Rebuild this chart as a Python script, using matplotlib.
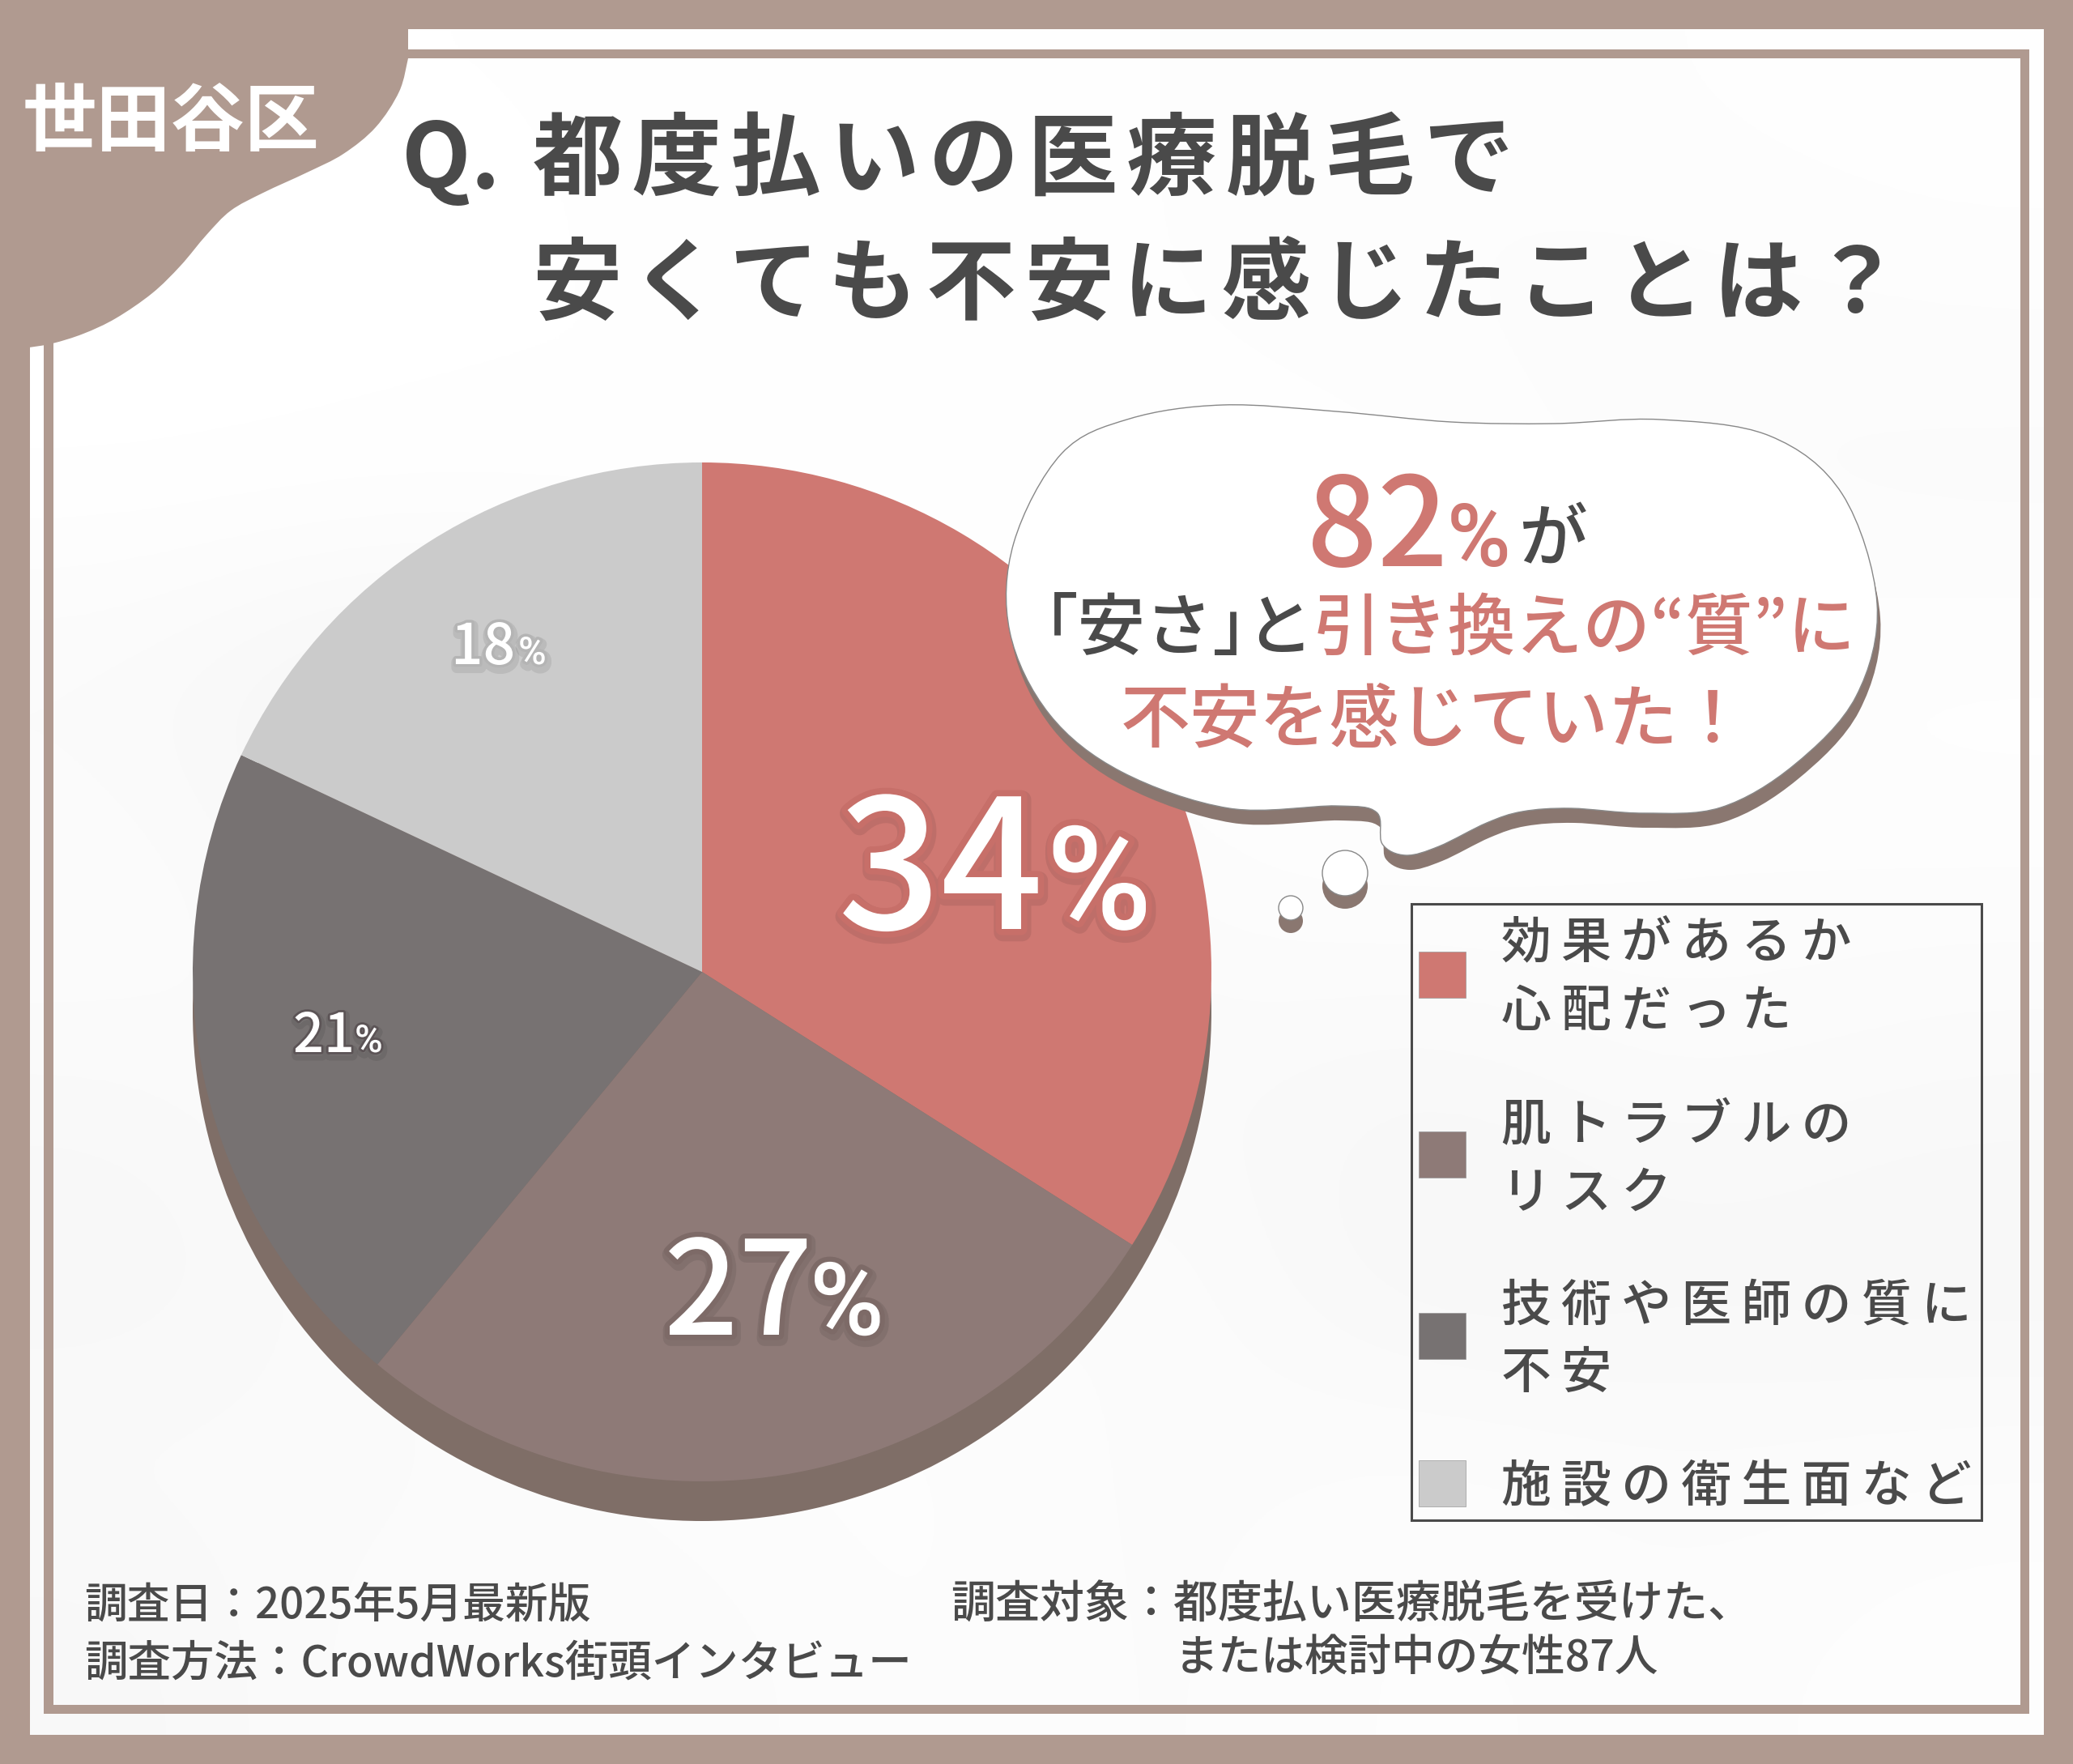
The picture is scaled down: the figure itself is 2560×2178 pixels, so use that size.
# -*- coding: utf-8 -*-
import numpy as np
import matplotlib
matplotlib.use("Agg")
import matplotlib.pyplot as plt
import matplotlib.patheffects as pe
from matplotlib.path import Path
from matplotlib.patches import PathPatch, Rectangle, Circle

plt.rcParams['font.family'] = ['Noto Sans CJK JP', 'DejaVu Sans']

# data
categories = ["効果があるか\n心配だった", "肌トラブルの\nリスク", "技術や医師の質に\n不安", "施設の衛生面など"]
values = [34, 27, 21, 18]
colors = ['#cf7872', '#8e7a77', '#777272', '#cbcbcb']

BROWN = '#b09a90'
DARK = '#4a4a4a'
PINK = '#cf7872'
THIN = '\u2009'
HAIR = '\u200a'

# faint paper texture behind everything
texture = [
    [254, 254, 254, 254, 253, 252, 253, 254],
    [255, 254, 254, 254, 253, 252, 251, 252],
    [254, 254, 254, 254, 254, 254, 251, 250],
    [249, 242, 246, 252, 253, 254, 253, 254],
    [252, 246, 240, 246, 252, 253, 252, 252],
    [249, 252, 246, 243, 250, 247, 251, 249],
    [246, 251, 253, 250, 252, 245, 247, 246],
    [250, 249, 252, 253, 250, 252, 250, 251],
    [247, 252, 249, 253, 250, 253, 251, 253],
]


def track(s, sep):
    # letter spacing, keeps it one string
    return "\n".join(sep.join(line) for line in s.split("\n"))


def smooth(pts, closed=True):
    pts = [np.array(p, dtype=float) for p in pts]
    n = len(pts)
    verts = [pts[0]]
    codes = [Path.MOVETO]
    for i in range(n if closed else n - 1):
        if closed:
            p0, p1, p2, p3 = pts[i - 1], pts[i], pts[(i + 1) % n], pts[(i + 2) % n]
        else:
            p0, p1, p2, p3 = pts[max(i - 1, 0)], pts[i], pts[i + 1], pts[min(i + 2, n - 1)]
        verts += [p1 + (p2 - p0) / 6, p2 - (p3 - p1) / 6, p2]
        codes += [Path.CURVE4] * 3
    return verts, codes


fig = plt.figure(figsize=(25.6, 21.78), dpi=100, facecolor=BROWN)
ax = fig.add_axes([0, 0, 1, 1])

# ========== frame ==========
ax.imshow(np.array(texture) / 255, cmap='gray', vmin=0, vmax=1, interpolation='bicubic',
          extent=(37, 2524, 2142, 36), aspect='auto', zorder=1)
for x, y, w, h in [(54, 61, 2452, 11), (54, 2105, 2452, 11), (54, 61, 12, 2055), (2495, 61, 11, 2055)]:
    ax.add_patch(Rectangle((x, y), w, h, fc=BROWN, ec='none', zorder=2))

# corner blob
edge = [(504, 72), (493, 113), (464, 157), (424, 190), (379, 213), (325, 238), (285, 260),
        (255, 290), (223, 328), (188, 362), (143, 393), (103, 412), (65, 424), (36, 429)]
v, c = smooth(edge, closed=False)
v += [(0, 432), (0, 0), (504, 0), (504, 72), (504, 72)]
c += [Path.LINETO] * 4 + [Path.CLOSEPOLY]
ax.add_patch(PathPatch(Path(v, c), fc=BROWN, ec='none', zorder=3))
ax.text(28, 179, "世田谷区", color='white', fontsize=66, fontweight='bold', zorder=4)

# ========== title ==========
ax.text(496, 232, "Q.", color=DARK, fontsize=80, fontweight='bold', zorder=4)
ax.text(658, 232, track("都度払いの医療脱毛で", HAIR), color=DARK, fontsize=80, fontweight='bold', zorder=4)
ax.text(658, 387, track("安くても不安に感じたことは？", HAIR), color=DARK, fontsize=79.6, fontweight='bold', zorder=4)

# ========== pie ==========
ax.add_patch(Circle((867, 1249), 629, fc='#7f6e67', ec='none', zorder=4))
wedges, _ = ax.pie(values, colors=colors, center=(867, 1200), radius=629,
                   startangle=-90, counterclock=True, frame=True)
for w in wedges:
    w.set_zorder(5)

# big labels get a heavier outline
label_style = [
    (1035, 1147, 160, 1292, 128, '#c76f69', 11),
    (820, 1648, 116, 1000, 90, '#7d6a67', 9),
    (362, 1299, 48, 438, 34, '#5c5456', 4),
    (557, 820, 50, 640, 34, '#b4b4b4', 5),
]
for value, (x, y, size, px, psize, stroke, lw) in zip(values, label_style):
    fx = [pe.Stroke(linewidth=lw + 5, foreground='#000000', alpha=0.08, offset=(1, -3)),
          pe.Stroke(linewidth=lw, foreground=stroke), pe.Normal()]
    ax.text(x, y, str(value), color='white', fontsize=size, fontweight='medium', zorder=6, path_effects=fx)
    ax.text(px, y, "%", color='white', fontsize=psize, fontweight='medium', family=['Roboto'],
            zorder=6, path_effects=fx)

# ========== bubble ==========
outline = [(1510, 500), (1650, 508), (1792, 521), (1920, 523), (2050, 518), (2185, 538), (2275, 610),
           (2318, 745), (2292, 860), (2215, 945), (2125, 997),
           (2030, 1004), (1940, 998), (1880, 1002), (1836, 1016), (1777, 1045), (1736, 1056),
           (1707, 1042), (1700, 1003), (1650, 995), (1518, 998), (1385, 953), (1296, 882),
           (1247, 780), (1252, 670), (1311, 560), (1395, 517)]
v, c = smooth(outline)
shadow = [np.array(p) + (4, 18) for p in v]
ax.add_patch(PathPatch(Path(shadow, c), fc='#8a7770', ec='none', zorder=7))
ax.add_patch(PathPatch(Path(v, c), fc='white', ec='#888888', lw=1.0, zorder=8))
for cx, cy, r in [(1661, 1078, 28), (1594, 1121, 15)]:
    ax.add_patch(Circle((cx, cy + 16), r, fc='#8a7770', ec='none', zorder=7))
    ax.add_patch(Circle((cx, cy), r, fc='white', ec='#888888', lw=1.0, zorder=8))

ax.text(1614, 699, "82", color=PINK, fontsize=110, fontweight='medium', zorder=9)
ax.text(1787, 699, "%", color=PINK, fontsize=77, fontweight='medium', family=['Roboto'], zorder=9)
ax.text(1875, 692, "が", color=DARK, fontsize=61, fontweight='medium', zorder=9)
ax.text(1290, 802, "｢安さ｣と", color=DARK, fontsize=60, fontweight='medium', zorder=9)
ax.text(1622, 802, "引き換えの“質”に", color=PINK, fontsize=60, fontweight='medium', zorder=9)
ax.text(1384, 916, "不安を感じていた！", color=PINK, fontsize=62, fontweight='medium', zorder=9)

# ========== legend ==========
ax.add_patch(Rectangle((1743, 1116), 704, 761, fc='none', ec=DARK, lw=2.2, zorder=4))
swatch_y = [1175, 1397, 1621, 1803]
text_y = [1208, 1432, 1655, 1837]
for cat, color, sy, ty in zip(categories, colors, swatch_y, text_y):
    ax.add_patch(Rectangle((1752, sy), 58, 57, fc=color, ec='#999999', lw=0.5, zorder=4))
    ax.text(1854, ty, track(cat, THIN), color=DARK, fontsize=44.5, fontweight='medium', va='center',
            linespacing=1.42, zorder=4)

# ========== footer ==========
ax.text(104, 1998, "調査日：2025年5月最新版", color=DARK, fontsize=38, fontweight='medium', zorder=4)
ax.text(104, 2070, "調査方法：CrowdWorks街頭インタビュー", color=DARK, fontsize=38.5, fontweight='medium', zorder=4)
ax.text(1174, 1998, "調査対象：都度払い医療脱毛を受けた、", color=DARK, fontsize=39.6, fontweight='medium', zorder=4)
ax.text(1451, 2064, "または検討中の女性87人", color=DARK, fontsize=38.6, fontweight='medium', zorder=4)

ax.set_xlim(0, 2560)
ax.set_ylim(2178, 0)
ax.set_aspect('auto')
ax.axis('off')

fig.savefig("out.png", dpi=100, facecolor=BROWN)
